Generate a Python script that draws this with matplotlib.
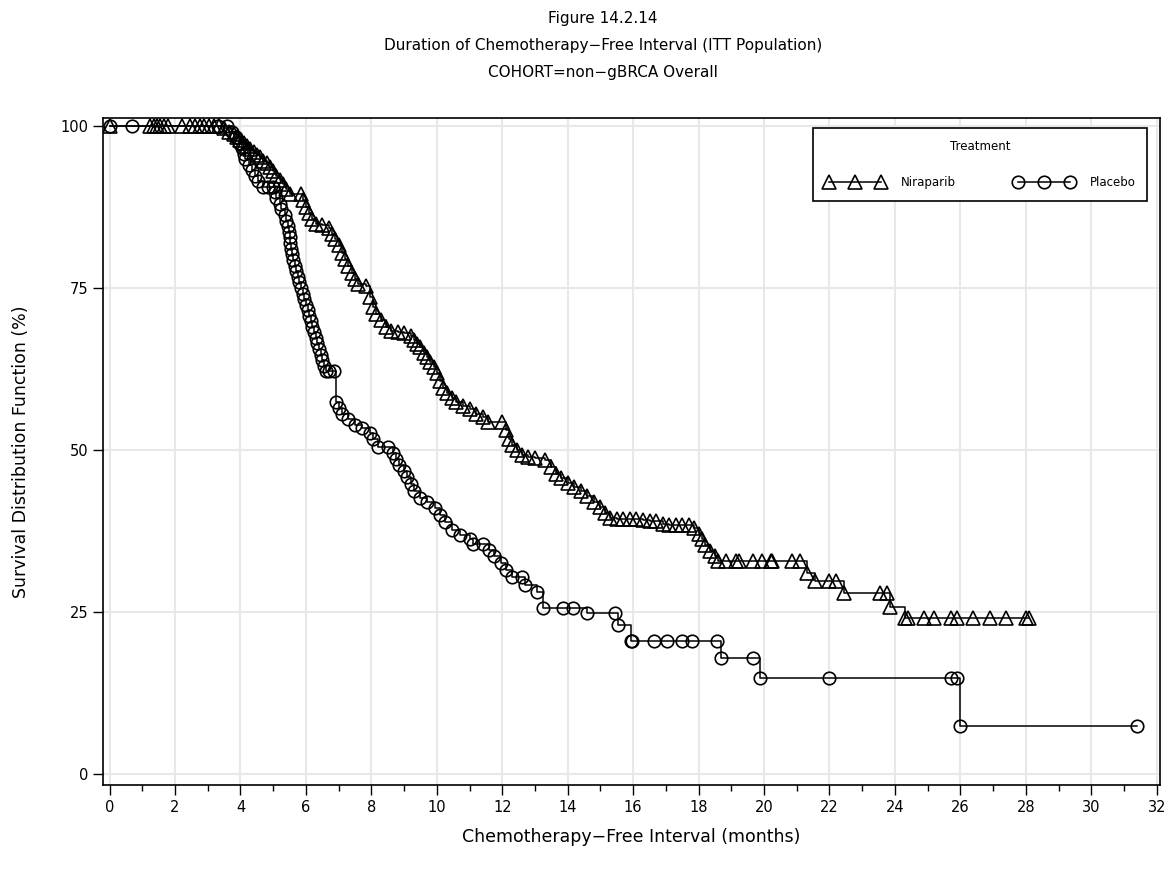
import matplotlib
matplotlib.use('Agg')
import matplotlib.pyplot as plt
from matplotlib.ticker import MultipleLocator

# Niraparib: (months, survival %) at each plotted point
nira_t = [0, 1.25, 1.35, 1.45, 1.55, 1.65, 1.8, 2.2, 2.45, 2.6, 2.75, 2.9, 3.05, 3.2, 3.35,
          3.5, 3.65, 3.8, 3.9, 4.0, 4.1, 4.2, 4.3, 4.4, 4.5, 4.6, 4.7, 4.8, 4.9, 5.0,
          5.1, 5.2, 5.3, 5.4, 5.5, 5.85, 5.9, 6.0, 6.1, 6.2, 6.3, 6.5, 6.7, 6.8, 6.9,
          7.0, 7.1, 7.2, 7.3, 7.4, 7.5, 7.6, 7.85, 7.95, 8.05, 8.15, 8.3, 8.45, 8.6, 8.8,
          9.0, 9.2, 9.3, 9.4, 9.5, 9.6, 9.7, 9.8, 9.9, 10.0, 10.1, 10.2, 10.3, 10.45, 10.6,
          10.8, 11.0, 11.2, 11.4, 11.55, 12.0, 12.1, 12.2, 12.3, 12.45, 12.6, 12.8, 13.0, 13.3, 13.5,
          13.65, 13.8, 14.0, 14.2, 14.4, 14.6, 14.8, 15.0, 15.15, 15.3, 15.5, 15.7, 15.9, 16.1, 16.3,
          16.5, 16.7, 16.9, 17.1, 17.3, 17.5, 17.7, 17.85, 18.0, 18.1, 18.2, 18.35, 18.5, 18.6, 18.85,
          19.15, 19.25, 19.65, 19.95, 20.2, 20.25, 20.85, 21.1, 21.3, 21.55, 22.0, 22.2, 22.45, 23.55, 23.75,
          23.85, 24.3, 24.4, 24.9, 25.2, 25.7, 25.9, 26.4, 26.9, 27.4, 28.0, 28.1]
nira_s = [100, 100, 100, 100, 100, 100, 100, 100, 100, 100, 100, 100, 100, 100, 100,
          99.6, 99.1, 98.7, 98.2, 97.8, 97.3, 96.9, 96.4, 96.0, 95.5, 95.1, 94.6, 94.2, 93.7, 93.0,
          92.3, 91.6, 91.0, 90.3, 89.4, 89.4, 88.5, 87.5, 86.6, 85.6, 84.9, 84.7, 84.2, 83.3, 82.5,
          81.6, 80.4, 79.4, 78.3, 77.3, 76.4, 75.6, 75.2, 73.6, 72.0, 71.0, 70.0, 69.0, 68.4, 68.2,
          68.0, 67.6, 67.0, 66.3, 65.8, 65.0, 64.3, 63.6, 62.8, 61.8, 60.6, 59.6, 58.8, 58.0, 57.4,
          56.8, 56.3, 55.6, 55.0, 54.3, 54.3, 53.0, 51.6, 50.8, 50.0, 49.2, 48.9, 48.7, 48.4, 47.3,
          46.2, 45.6, 44.9, 44.2, 43.6, 42.8, 42.0, 41.2, 40.2, 39.5, 39.4, 39.4, 39.4, 39.4, 39.2,
          39.0, 39.0, 38.6, 38.4, 38.4, 38.4, 38.4, 38.0, 37.0, 36.2, 35.3, 34.4, 33.6, 32.8, 32.8,
          32.8, 32.8, 32.8, 32.8, 32.8, 32.8, 32.8, 32.8, 31.0, 29.7, 29.7, 29.7, 27.9, 27.9, 27.9,
          25.8, 24.1, 24.1, 24.1, 24.1, 24.1, 24.1, 24.1, 24.1, 24.1, 24.1, 24.1]

# Placebo
plac_t = [0, 0.7, 3.3, 3.6, 3.75, 3.85, 3.95, 4.05, 4.1, 4.15, 4.25, 4.35, 4.45, 4.55, 4.7,
          4.85, 5.0, 5.05, 5.1, 5.2, 5.25, 5.35, 5.4, 5.45, 5.48, 5.5, 5.52, 5.55, 5.58, 5.62,
          5.66, 5.7, 5.75, 5.8, 5.85, 5.9, 5.95, 6.0, 6.05, 6.1, 6.15, 6.2, 6.25, 6.3, 6.35,
          6.4, 6.45, 6.5, 6.55, 6.6, 6.7, 6.85, 6.93, 7.0, 7.1, 7.3, 7.5, 7.7, 7.95, 8.05,
          8.2, 8.5, 8.65, 8.75, 8.85, 9.0, 9.1, 9.2, 9.3, 9.5, 9.7, 9.95, 10.1, 10.25, 10.45,
          10.7, 11.0, 11.1, 11.4, 11.6, 11.75, 11.95, 12.1, 12.3, 12.6, 12.7, 13.05, 13.25, 13.85, 14.15,
          14.6, 15.45, 15.55, 15.92, 15.97, 16.65, 17.05, 17.5, 17.8, 18.55, 18.7, 19.65, 19.87, 22.0, 25.7,
          25.9, 26.0, 31.4]
plac_s = [100, 100, 100, 100, 99.1, 98.3, 97.4, 96.6, 95.7, 94.8, 94.0, 93.1, 92.2, 91.4, 90.5,
          90.5, 90.5, 89.7, 88.8, 87.9, 87.1, 86.2, 85.3, 84.5, 83.6, 82.8, 81.9, 81.0, 80.2, 79.3,
          78.4, 77.6, 76.7, 75.9, 75.0, 74.1, 73.3, 72.4, 71.6, 70.7, 69.8, 69.0, 68.1, 67.2, 66.4,
          65.5, 64.7, 63.8, 62.9, 62.1, 62.1, 62.1, 57.4, 56.5, 55.6, 54.7, 53.9, 53.4, 52.6, 51.7,
          50.4, 50.4, 49.5, 48.6, 47.6, 46.7, 45.8, 44.8, 43.6, 42.6, 42.0, 41.0, 39.9, 38.8, 37.7,
          36.9, 36.2, 35.5, 35.5, 34.6, 33.6, 32.6, 31.5, 30.4, 30.4, 29.2, 28.1, 25.6, 25.6, 25.6,
          24.8, 24.8, 23.0, 20.5, 20.5, 20.5, 20.5, 20.5, 20.5, 20.5, 17.9, 17.9, 14.8, 14.8, 14.8,
          14.8, 7.4, 7.4]

fig = plt.figure(figsize=(11.75, 8.72), dpi=100)
ax = fig.add_axes([0.0877, 0.0998, 0.8995, 0.765])

ax.plot(nira_t, nira_s, drawstyle='steps-post', color='black', lw=1.1,
        marker='^', ms=10, mfc='none', mec='black', mew=1.2, label='Niraparib')
ax.plot(plac_t, plac_s, drawstyle='steps-post', color='black', lw=1.1,
        marker='o', ms=9, mfc='none', mec='black', mew=1.2, label='Placebo')

ax.set_xlim(-0.2, 32.1)
ax.set_ylim(-1.7, 101.2)
ax.xaxis.set_major_locator(MultipleLocator(2))
ax.xaxis.set_minor_locator(MultipleLocator(1))
ax.set_yticks([0, 25, 50, 75, 100])
ax.grid(True, which='major', color='#e8e8e8', lw=1.5)
ax.set_axisbelow(True)
ax.tick_params(which='major', length=7, width=1, labelsize=10.5)
ax.tick_params(which='minor', length=4, width=1)
for s in ax.spines.values():
    s.set_linewidth(1.2)

ax.set_xlabel('Chemotherapy\u2212Free Interval (months)', fontsize=12.5, labelpad=10)
ax.set_ylabel('Survival Distribution Function (%)', fontsize=12.5, labelpad=22)

fig.text(0.513, 0.979, 'Figure 14.2.14', ha='center', va='center', fontsize=11)
fig.text(0.513, 0.948, 'Duration of Chemotherapy\u2212Free Interval (ITT Population)',
         ha='center', va='center', fontsize=11)
fig.text(0.513, 0.917, 'COHORT=non\u2212gBRCA Overall', ha='center', va='center', fontsize=11)

leg = ax.legend(loc='upper left', bbox_to_anchor=(0.672, 0.88, 0.316, 0.105), mode='expand',
                ncol=2, numpoints=3, handlelength=5, handletextpad=1.4, columnspacing=3,
                title='Treatment', fontsize=8.5, title_fontsize=8.5, fancybox=False,
                edgecolor='black', framealpha=1, borderpad=1.0, labelspacing=2.0,
                borderaxespad=0)
leg.get_frame().set_linewidth(1.2)

fig.savefig('out.png', dpi=100)
